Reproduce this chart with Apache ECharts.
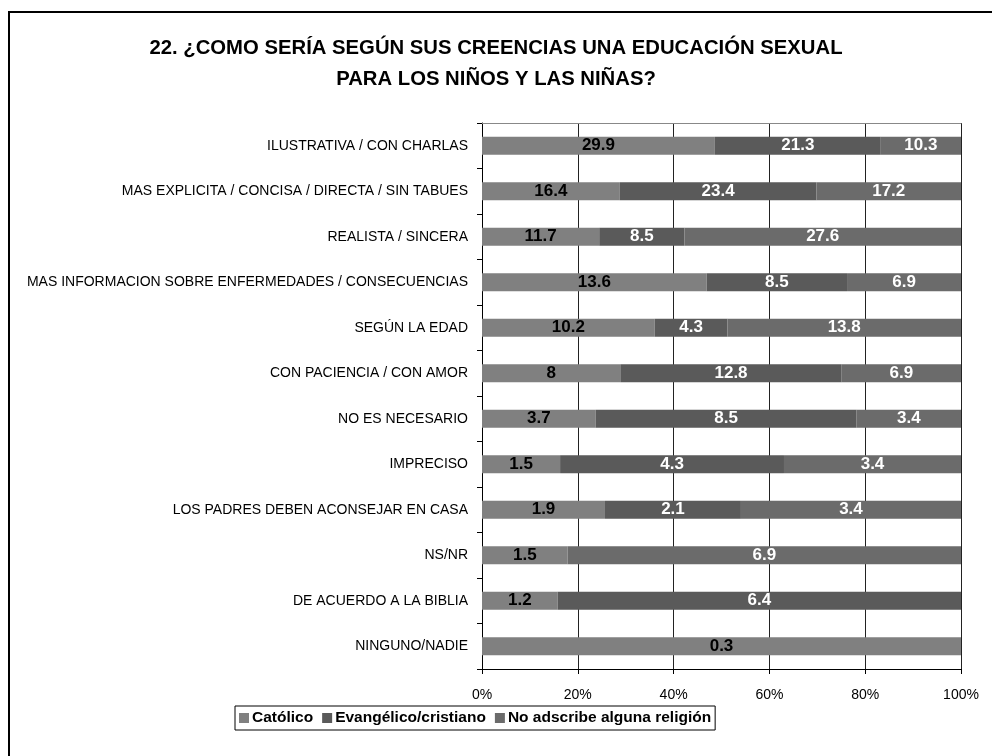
<!DOCTYPE html>
<html>
<head>
<meta charset="utf-8">
<script src="https://cdn.jsdelivr.net/npm/echarts@6/dist/echarts.min.js"></script>
<style>
    html, body { margin: 0; padding: 0; background: #fff; }
    #chart { width: 992px; height: 756px; }
</style>
</head>
<body>
<div id="chart"></div>
<script>
// 类别（从上到下）
const categories = [
    'ILUSTRATIVA / CON CHARLAS',
    'MAS EXPLICITA / CONCISA / DIRECTA / SIN TABUES',
    'REALISTA / SINCERA',
    'MAS INFORMACION SOBRE ENFERMEDADES / CONSECUENCIAS',
    'SEGÚN LA EDAD',
    'CON PACIENCIA / CON AMOR',
    'NO ES NECESARIO',
    'IMPRECISO',
    'LOS PADRES DEBEN ACONSEJAR EN CASA',
    'NS/NR',
    'DE ACUERDO A LA BIBLIA',
    'NINGUNO/NADIE'
];

// 各宗教的原始数值
const catolico = [29.9, 16.4, 11.7, 13.6, 10.2, 8, 3.7, 1.5, 1.9, 1.5, 1.2, 0.3];
const evangelico = [21.3, 23.4, 8.5, 8.5, 4.3, 12.8, 8.5, 4.3, 2.1, null, 6.4, null];
const ninguna = [10.3, 17.2, 27.6, 6.9, 13.8, 6.9, 3.4, 3.4, 3.4, 6.9, null, null];

const seriesNames = ['Católico', 'Evangélico/cristiano', 'No adscribe alguna religión'];
const xTicks = [0, 20, 40, 60, 80, 100];

const font = '"Liberation Sans", Arial, sans-serif';

// 每行合计，用来算 100% 堆叠
const totals = categories.map((c, i) => (catolico[i] || 0) + (evangelico[i] || 0) + (ninguna[i] || 0));

function toPercent(arr) {
    return arr.map((v, i) => v == null ? null : v / totals[i] * 100);
}

function makeSeries(name, raw, color, labelColor) {
    return {
        name: name,
        type: 'bar',
        stack: 'total',
        barWidth: 18,
        data: toPercent(raw),
        itemStyle: { color: color },
        label: {
            show: true,
            position: 'inside',
            color: labelColor,
            fontFamily: font,
            fontWeight: 'bold',
            fontSize: 17,
            formatter: p => raw[p.dataIndex] == null ? '' : String(raw[p.dataIndex])
        }
    };
}

const chart = echarts.init(document.getElementById('chart'));
chart.setOption({
    animation: false,
    title: {
        text: '22. ¿COMO SERÍA SEGÚN SUS CREENCIAS UNA EDUCACIÓN SEXUAL\nPARA LOS NIÑOS Y LAS NIÑAS?',
        left: 'center',
        top: 28,
        textStyle: { fontFamily: font, fontWeight: 'bold', fontSize: 20.3, lineHeight: 31, color: '#000' }
    },
    legend: {
        data: seriesNames,
        left: 235,
        top: 706,
        itemWidth: 10,
        itemHeight: 10,
        itemGap: 9,
        padding: [4, 4, 4, 4],
        borderColor: '#000',
        borderWidth: 1,
        icon: 'rect',
        textStyle: { fontFamily: font, fontWeight: 'bold', fontSize: 15.5, color: '#000', padding: [0, 0, 0, -2] }
    },
    grid: { left: 482, right: 31, top: 123, bottom: 87 },
    xAxis: [{
        type: 'value',
        min: xTicks[0],
        max: xTicks[xTicks.length - 1],
        interval: 20,
        axisLine: { show: true, lineStyle: { color: '#000' } },
        axisTick: { show: true, length: 5, lineStyle: { color: '#000' } },
        axisLabel: { formatter: '{value}%', color: '#000', fontFamily: font, fontSize: 14, margin: 19 },
        splitLine: { show: true, lineStyle: { color: '#222', width: 1 } }
    }, {
        type: 'value',
        position: 'top',
        min: 0,
        max: 100,
        axisLine: { show: true, lineStyle: { color: '#888' } },
        axisTick: { show: false },
        axisLabel: { show: false },
        splitLine: { show: false }
    }],
    yAxis: {
        type: 'category',
        inverse: true,
        data: categories,
        axisLine: { show: true, lineStyle: { color: '#000' } },
        axisTick: { show: true, length: 5, lineStyle: { color: '#000' } },
        axisLabel: { color: '#000', fontFamily: font, fontSize: 14, margin: 14 }
    },
    graphic: [{
        type: 'rect',
        shape: { x: 9, y: 12, width: 1000, height: 800 },
        style: { fill: 'none', stroke: '#000', lineWidth: 2 },
        silent: true
    }],
    series: [
        makeSeries(seriesNames[0], catolico, '#808080', '#000'),
        makeSeries(seriesNames[1], evangelico, '#5a5a5a', '#fff'),
        makeSeries(seriesNames[2], ninguna, '#6b6b6b', '#fff')
    ]
});
</script>
</body>
</html>
